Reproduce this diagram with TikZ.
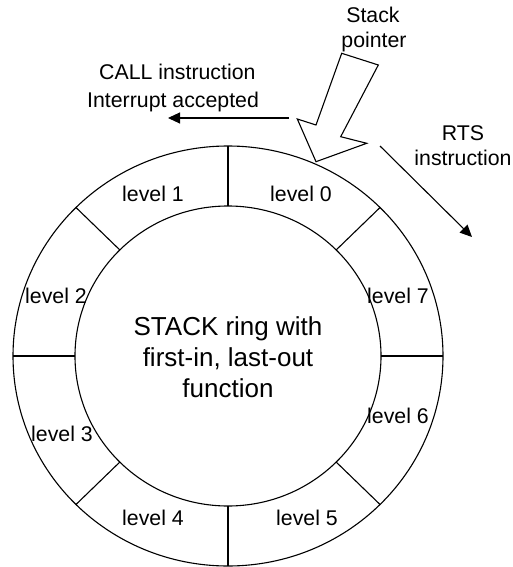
\documentclass[tikz,border=0pt]{standalone}
\usepackage{fontspec}
\setmainfont{Liberation Sans}
\usetikzlibrary{arrows.meta,calc}
\begin{document}
\begin{tikzpicture}[x=1pt,y=-1pt,
  line/.style={line width=1.1pt,line join=miter},
  lbl/.style={inner sep=0pt,font=\fontsize{21.3}{25}\selectfont},
  big/.style={inner sep=0pt,align=center,font=\fontsize{26}{31}\selectfont},
  arr/.style={line,-{Triangle[length=12pt,width=11pt]}}]
\useasboundingbox (0,0) rectangle (512,567);
% ring
\coordinate (c) at (228,356);
\draw[line] (c) ellipse [x radius=215, y radius=210];
\draw[line] (c) ellipse [x radius=153, y radius=150];
\foreach \a in {0,45,...,315}{
  \draw[line] ($(c)+({153*cos(\a)},{-150*sin(\a)})$) -- ($(c)+({215*cos(\a)},{-210*sin(\a)})$);
}
% labels
\node[lbl] (l0) at (301,194) {level 0};
\node[lbl] (l1) at (153,194) {level 1};
\node[lbl] (l2) at (56,296) {level 2};
\node[lbl] (l7) at (398,296) {level 7};
\node[lbl] (l3) at (62,434) {level 3};
\node[lbl] (l6) at (398,416) {level 6};
\node[lbl] (l4) at (153,518) {level 4};
\node[lbl] (l5) at (307,518) {level 5};
\node[big] (ctr) at (228,357) {STACK ring with\\first-in, last-out\\function};
% top texts
\node[lbl] (st) at (373,15) {Stack};
\node[lbl] (sp) at (374,42) {pointer};
\node[lbl,anchor=west] (call) at (99,72) {CALL instruction};
\node[lbl,anchor=west] (intr) at (87,102) {Interrupt accepted};
\node[lbl] (rts) at (463,133) {RTS};
\node[lbl] (rtsi) at (463,158) {instruction};
% connectors
\coordinate (a1s) at (289,118);
\coordinate (a1e) at (168,118);
\draw[arr] (a1s) -- (a1e);
\coordinate (a2s) at (380,146);
\coordinate (a2e) at (472,237);
\draw[arr] (a2s) -- (a2e);
% block arrow (stack pointer)
\draw[line] (341.7,53.3) -- (378.3,65) -- (340.7,136.7) -- (366.7,143.3)
  -- (316,161.7) -- (297.3,119) -- (316,125) -- cycle;
\end{tikzpicture}
\end{document}
